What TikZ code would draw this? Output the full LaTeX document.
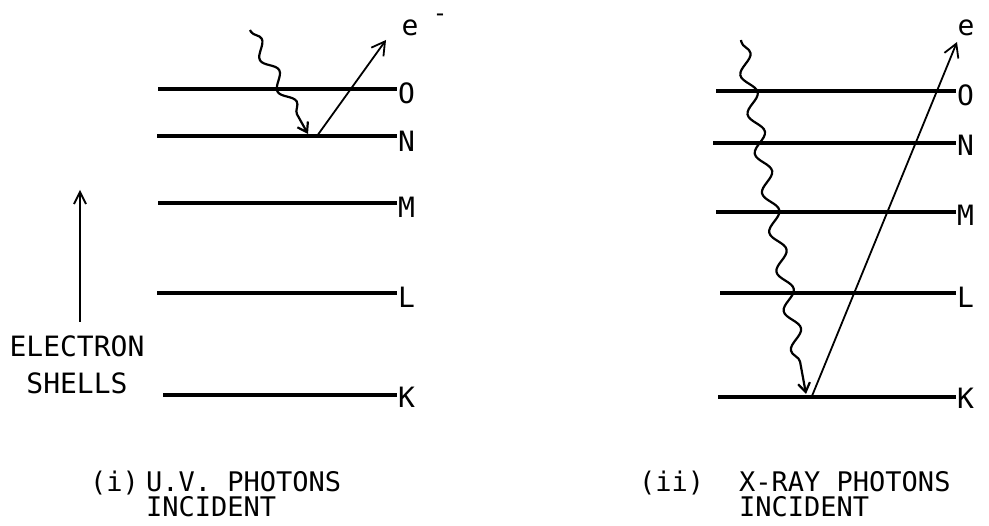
\documentclass[tikz,border=0pt]{standalone}
\usepackage{fontspec}
\setmainfont{DejaVu Sans Mono}
\usetikzlibrary{decorations.pathmorphing,arrows.meta}
\begin{document}
\begin{tikzpicture}[x=1pt,y=-1pt,
  shell/.style={line width=3.2pt},
  lbl/.style={anchor=west,inner sep=1pt,font=\fontsize{28}{30}\selectfont},
  txt/.style={anchor=base west,inner sep=0pt,align=left,font=\fontsize{27}{25.5}\selectfont},
  photon/.style={line width=2.2pt,decorate,
    decoration={snake,segment length=36pt,amplitude=6pt,pre length=2pt,post length=12pt},
    -{Straight Barb[length=9pt,width=12pt,line width=2.2pt]}},
  elec/.style={line width=1.8pt,-{Straight Barb[length=13pt,width=15pt,line width=1.8pt]}},
  axis/.style={line width=1.8pt,-{Straight Barb[length=12pt,width=12pt,line width=1.8pt]}}
]
\useasboundingbox[fill=white] (0,0) rectangle (989,526);

% ---- left panel shells
\node[lbl] (lO) at (397,93) {O};
\node[lbl] (lN) at (397,141) {N};
\node[lbl] (lM) at (397,207) {M};
\node[lbl] (lL) at (397,297) {L};
\node[lbl] (lK) at (397,397) {K};
\coordinate (sO) at (158,89);
\coordinate (sN) at (157,136);
\coordinate (sM) at (158,203);
\coordinate (sL) at (157,293);
\coordinate (sK) at (163,395);
\draw[shell] (sO) -- (sO -| lO.west);
\draw[shell] (sN) -- (sN -| lN.west);
\draw[shell] (sM) -- (sM -| lM.west);
\draw[shell] (sL) -- (sL -| lL.west);
\draw[shell] (sK) -- (sK -| lK.west);

% electron shells axis
\coordinate (a0) at (80,322);
\coordinate (a1) at (80,190);
\draw[axis] (a0) -- (a1);
\node[font=\fontsize{28}{30}\selectfont,inner sep=0pt] (es1) at (77,346) {ELECTRON};
\node[font=\fontsize{28}{30}\selectfont,inner sep=0pt] (es2) at (77,383) {SHELLS};

% left photon and electron
\coordinate (p1s) at (250,30);
\coordinate (p1e) at (308,134);
\draw[photon] (p1s) -- (p1e);
\coordinate (e1s) at (317,136);
\coordinate (e1e) at (386,40);
\draw[elec] (e1s) -- (e1e);
\node[font=\fontsize{28}{30}\selectfont,inner sep=0pt] (e1) at (410,28) {e};
\node[font=\fontsize{24}{24}\selectfont,inner sep=0pt,anchor=base] (m1) at (440,22) {-};

% ---- right panel shells
\node[lbl] (rO) at (956,95) {O};
\node[lbl] (rN) at (956,145) {N};
\node[lbl] (rM) at (956,215) {M};
\node[lbl] (rL) at (956,297) {L};
\node[lbl] (rK) at (956,398) {K};
\coordinate (tO) at (716,91);
\coordinate (tN) at (713,143);
\coordinate (tM) at (716,212);
\coordinate (tL) at (720,293);
\coordinate (tK) at (718,397);
\draw[shell] (tO) -- (tO -| rO.west);
\draw[shell] (tN) -- (tN -| rN.west);
\draw[shell] (tM) -- (tM -| rM.west);
\draw[shell] (tL) -- (tL -| rL.west);
\draw[shell] (tK) -- (tK -| rK.west);

% right photon and electron
\coordinate (p2s) at (741,40);
\coordinate (p2e) at (806,394);
\draw[photon,decoration={snake,segment length=40pt,amplitude=7pt,pre length=2pt,post length=14pt}] (p2s) -- (p2e);
\coordinate (e2s) at (812,396);
\coordinate (e2e) at (957,42);
\draw[elec] (e2s) -- (e2e);
\node[font=\fontsize{28}{30}\selectfont,inner sep=0pt] (e2) at (966,28) {e};

% ---- captions
\node[txt] (c1a) at (90,492) {(i)};
\node[txt,anchor=north west] (c1b) at (146,471) {U.V. PHOTONS\\INCIDENT};
\node[txt] (c2a) at (639,492) {(ii)};
\node[txt,anchor=north west] (c2b) at (739,471) {X-RAY PHOTONS\\INCIDENT};
\end{tikzpicture}
\end{document}
